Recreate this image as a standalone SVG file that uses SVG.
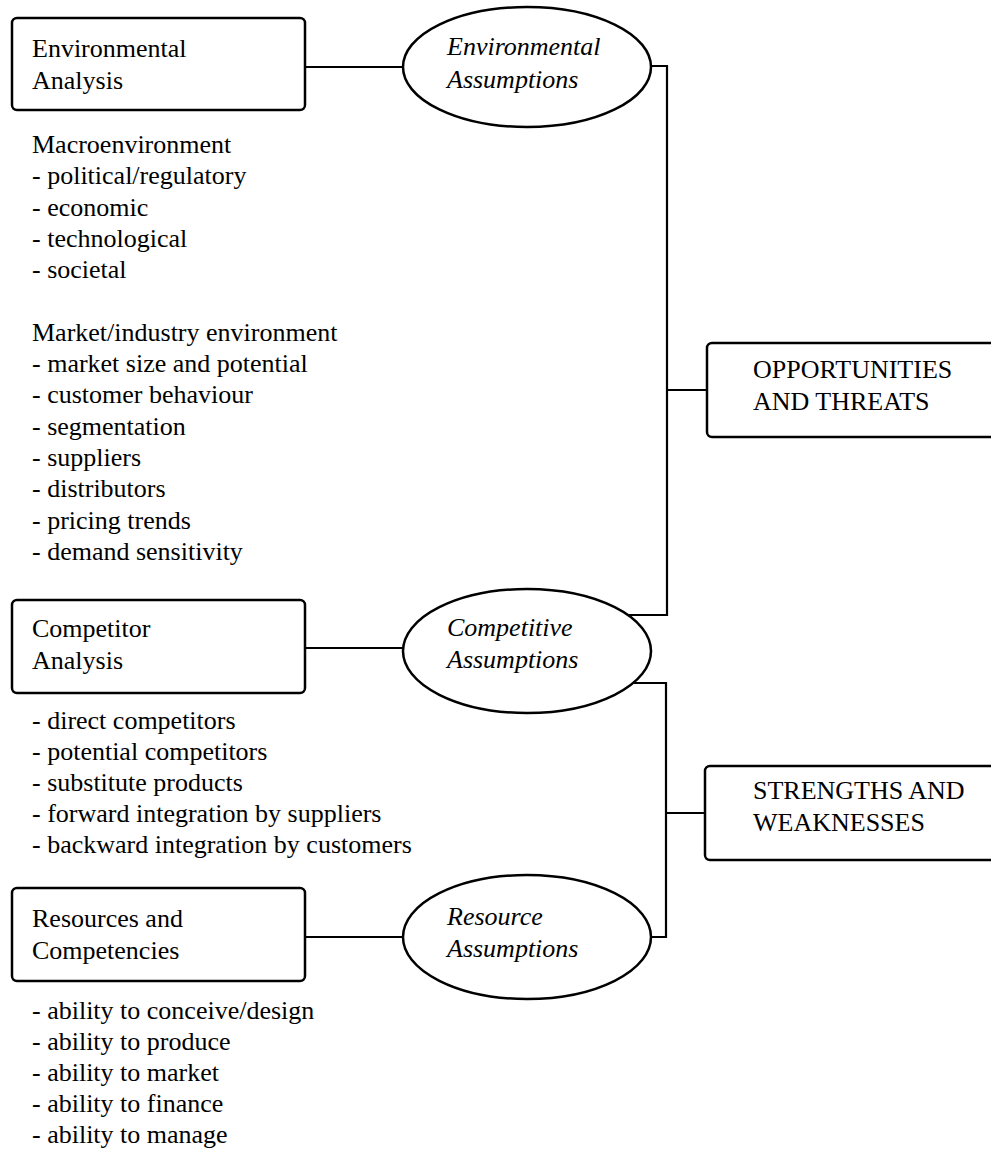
<svg xmlns="http://www.w3.org/2000/svg" width="991" height="1158" viewBox="0 0 991 1158" font-family="Liberation Serif, DejaVu Serif, serif" font-size="26">
<style>
.box{fill:#fff;stroke:#000;stroke-width:2.5}
.ell{fill:#fff;stroke:#000;stroke-width:2.5}
.con{fill:none;stroke:#000;stroke-width:2.2}
text{font-family:'Liberation Serif','DejaVu Serif',serif;font-size:26px;fill:#000}
.it{font-style:italic}
</style>
<rect width="991" height="1158" fill="#fff"/>
<g id="connectors">
<line class="con" x1="305" y1="67" x2="403" y2="67"/>
<line class="con" x1="305" y1="648" x2="403" y2="648"/>
<line class="con" x1="305" y1="937" x2="403" y2="937"/>
<polyline class="con" points="651,66 667,66 667,615 628,615"/>
<line class="con" x1="667" y1="390" x2="707" y2="390"/>
<polyline class="con" points="633,683 666,683 666,937 651,937"/>
<line class="con" x1="666" y1="813" x2="705" y2="813"/>
</g>
<g id="env-analysis">
<rect class="box" x="12" y="18" width="293" height="92" rx="5"/>
<text x="32" y="57">Environmental</text>
<text x="32" y="89">Analysis</text>
</g>
<g id="env-list">
<text x="32" y="153">Macroenvironment</text>
<text x="32" y="184">- political/regulatory</text>
<text x="32" y="216">- economic</text>
<text x="32" y="247">- technological</text>
<text x="32" y="278">- societal</text>
<text x="32" y="341">Market/industry environment</text>
<text x="32" y="372">- market size and potential</text>
<text x="32" y="403">- customer behaviour</text>
<text x="32" y="435">- segmentation</text>
<text x="32" y="466">- suppliers</text>
<text x="32" y="497">- distributors</text>
<text x="32" y="529">- pricing trends</text>
<text x="32" y="560">- demand sensitivity</text>
</g>
<g id="env-assumptions">
<ellipse class="ell" cx="527" cy="67" rx="124" ry="60"/>
<text class="it" x="447" y="55">Environmental</text>
<text class="it" x="447" y="88">Assumptions</text>
</g>
<g id="comp-analysis">
<rect class="box" x="12" y="600" width="293" height="93" rx="5"/>
<text x="32" y="637">Competitor</text>
<text x="32" y="669">Analysis</text>
</g>
<g id="comp-list">
<text x="32" y="729">- direct competitors</text>
<text x="32" y="760">- potential competitors</text>
<text x="32" y="791">- substitute products</text>
<text x="32" y="822">- forward integration by suppliers</text>
<text x="32" y="853">- backward integration by customers</text>
</g>
<g id="comp-assumptions">
<ellipse class="ell" cx="527" cy="651" rx="124" ry="62"/>
<text class="it" x="447" y="636">Competitive</text>
<text class="it" x="447" y="668">Assumptions</text>
</g>
<g id="res-competencies">
<rect class="box" x="12" y="888" width="293" height="93" rx="5"/>
<text x="32" y="927">Resources and</text>
<text x="32" y="959">Competencies</text>
</g>
<g id="res-list">
<text x="32" y="1019">- ability to conceive/design</text>
<text x="32" y="1050">- ability to produce</text>
<text x="32" y="1081">- ability to market</text>
<text x="32" y="1112">- ability to finance</text>
<text x="32" y="1143">- ability to manage</text>
</g>
<g id="res-assumptions">
<ellipse class="ell" cx="527" cy="937" rx="124" ry="62"/>
<text class="it" x="447" y="925">Resource</text>
<text class="it" x="447" y="957">Assumptions</text>
</g>
<g id="opportunities">
<rect class="box" x="707" y="343" width="300" height="94" rx="5"/>
<text x="753" y="378">OPPORTUNITIES</text>
<text x="753" y="410">AND THREATS</text>
</g>
<g id="strengths">
<rect class="box" x="705" y="766" width="302" height="94" rx="5"/>
<text x="753" y="799">STRENGTHS AND</text>
<text x="753" y="831">WEAKNESSES</text>
</g>
</svg>
